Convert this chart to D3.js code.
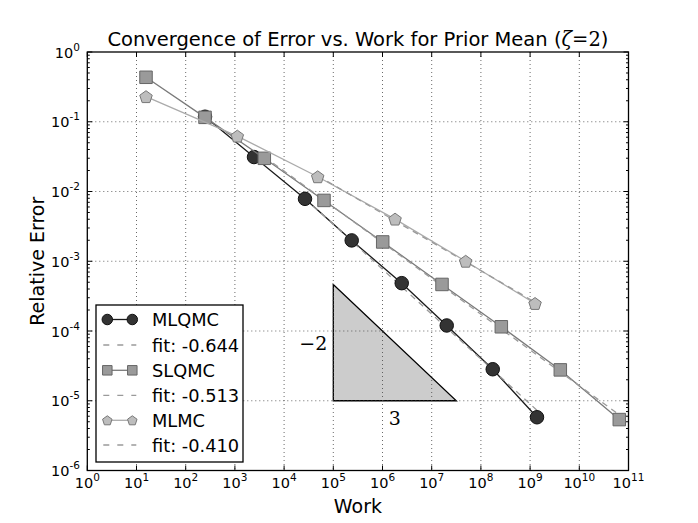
<!DOCTYPE html>
<html>
<head>
<meta charset="utf-8">
<script src="https://cdn.jsdelivr.net/npm/d3@7"></script>
<style>
  body { margin: 0; background: #fff; }
  svg { display: block; font-family: "DejaVu Sans", sans-serif; }
</style>
</head>
<body>
<svg id="chart" width="698" height="523"></svg>
<script>
// values
const seriesNames = ["MLQMC", "SLQMC", "MLMC"];
const fitLabels = ["fit: -0.644", "fit: -0.513", "fit: -0.410"];
const fitSlopes = [-0.644, -0.513, -0.410];

const workMLQMC = [247, 2445, 26600, 236600, 2.46e6, 2.02e7, 1.74e8, 1.38e9];
const errMLQMC = [0.118, 0.0312, 0.00785, 0.00199, 4.85e-4, 1.2e-4, 2.83e-5, 5.8e-6];

const workSLQMC = [15.6, 247, 3960, 64700, 1.01e6, 1.62e7, 2.6e8, 4.11e9, 6.5e10];
const errSLQMC = [0.434, 0.1156, 0.0299, 0.00745, 0.00189, 4.65e-4, 1.15e-4, 2.77e-5, 5.37e-6];

const workMLMC = [15.6, 1120, 48200, 1.8e6, 4.9e7, 1.26e9];
const errMLMC = [0.229, 0.0623, 0.01626, 0.00402, 1.0e-3, 2.48e-4];

const xTickExps = [0, 1, 2, 3, 4, 5, 6, 7, 8, 9, 10, 11];
const yTickExps = [0, -1, -2, -3, -4, -5, -6];

// slope triangle: x from 1e5 to 10^7.5, rise 2 over run 3
const triWork = [1e5, Math.pow(10, 7.5)];
const triErr = 1e-5;
const triRise = -2, triRun = 3;

(function () {
  const svg = d3.select("#chart");
  const W = 698, H = 523;
  const m = { left: 87.3, right: 69.5, top: 52, bottom: 52.5 };
  const x = d3.scaleLog().domain([1, 1e11]).range([m.left, W - m.right]);
  const y = d3.scaleLog().domain([1e-6, 1]).range([H - m.bottom, m.top]);

  const styles = [
    { line: "#1a1a1a", fill: "#333333", stroke: "#111111", shape: "circle" },
    { line: "#7a7a7a", fill: "#9a9a9a", stroke: "#666666", shape: "square" },
    { line: "#ababab", fill: "#bdbdbd", stroke: "#777777", shape: "pentagon" }
  ];
  const fitColor = "#9a9a9a";

  const data = [
    workMLQMC.map((w, i) => [w, errMLQMC[i]]),
    workSLQMC.map((w, i) => [w, errSLQMC[i]]),
    workMLMC.map((w, i) => [w, errMLMC[i]])
  ];

  function markerPath(shape, size) {
    const r = size / 2;
    if (shape === "circle") return d3.symbol(d3.symbolCircle, Math.PI * r * r)();
    if (shape === "square") return `M${-r},${-r}H${r}V${r}H${-r}Z`;
    const pts = d3.range(5).map((k) => {
      const a = -Math.PI / 2 + (k * 2 * Math.PI) / 5;
      return [r * 1.05 * Math.cos(a), r * 1.05 * Math.sin(a) + r * 0.1];
    });
    return "M" + pts.map((p) => p.join(",")).join("L") + "Z";
  }

  // slope triangle
  const triTop = triErr * Math.pow(10, (-triRise / triRun) * Math.log10(triWork[1] / triWork[0]));
  svg.append("path")
    .attr("d", `M${x(triWork[0])},${y(triTop)}L${x(triWork[0])},${y(triErr)}L${x(triWork[1])},${y(triErr)}Z`)
    .attr("fill", "#cccccc")
    .attr("stroke", "#000")
    .attr("stroke-width", 1.3);

  // grid
  const grid = svg.append("g").attr("stroke", "#444").attr("stroke-width", 0.8)
    .attr("stroke-dasharray", "1,3");
  xTickExps.slice(1, -1).forEach((e) => {
    grid.append("line").attr("x1", x(10 ** e)).attr("x2", x(10 ** e))
      .attr("y1", m.top).attr("y2", H - m.bottom);
  });
  yTickExps.slice(1, -1).forEach((e) => {
    grid.append("line").attr("y1", y(10 ** e)).attr("y2", y(10 ** e))
      .attr("x1", m.left).attr("x2", W - m.right);
  });

  // triangle labels
  svg.append("text")
    .attr("x", x(triWork[0]) - 20).attr("y", (y(triTop) + y(triErr)) / 2 + 7)
    .attr("text-anchor", "middle")
    .style("font-family", "'DejaVu Serif', serif").style("font-size", "19px")
    .text("\u2212" + Math.abs(triRise));
  svg.append("text")
    .attr("x", x(Math.sqrt(triWork[0] * triWork[1]))).attr("y", y(triErr) + 24)
    .attr("text-anchor", "middle")
    .style("font-family", "'DejaVu Serif', serif").style("font-size", "19px")
    .text(triRun);

  const line = d3.line().x((d) => x(d[0])).y((d) => y(d[1]));

  // data lines + fits + markers
  data.forEach((pts, s) => {
    const st = styles[s];
    svg.append("path").attr("d", line(pts)).attr("fill", "none")
      .attr("stroke", st.line).attr("stroke-width", 1.3);

    const fitPts = pts.slice(2);
    const slope = fitSlopes[s];
    const logC = d3.mean(fitPts, (d) => Math.log10(d[1]) - slope * Math.log10(d[0]));
    const x0 = fitPts[0][0], x1 = fitPts[fitPts.length - 1][0];
    const fitLine = [x0, x1].map((w) => [w, Math.pow(10, logC + slope * Math.log10(w))]);
    svg.append("path").attr("d", line(fitLine)).attr("fill", "none")
      .attr("stroke", fitColor).attr("stroke-width", 1.3).attr("stroke-dasharray", "6,5");

    svg.append("g").selectAll("path").data(pts).join("path")
      .attr("d", markerPath(st.shape, st.shape === "circle" ? 13.5 : 12.5))
      .attr("transform", (d) => `translate(${x(d[0])},${y(d[1])})`)
      .attr("fill", st.fill).attr("stroke", st.stroke).attr("stroke-width", 1);
  });

  // frame
  svg.append("rect").attr("x", m.left).attr("y", m.top)
    .attr("width", W - m.left - m.right).attr("height", H - m.top - m.bottom)
    .attr("fill", "none").attr("stroke", "#000").attr("stroke-width", 1.3);

  // ticks (inside, all sides)
  const ticks = svg.append("g").attr("stroke", "#000").attr("stroke-width", 1);
  xTickExps.forEach((e) => {
    const px = x(10 ** e);
    ticks.append("line").attr("x1", px).attr("x2", px).attr("y1", H - m.bottom).attr("y2", H - m.bottom - 5);
    ticks.append("line").attr("x1", px).attr("x2", px).attr("y1", m.top).attr("y2", m.top + 5);
  });
  yTickExps.forEach((e) => {
    const py = y(10 ** e);
    ticks.append("line").attr("y1", py).attr("y2", py).attr("x1", m.left).attr("x2", m.left + 5);
    ticks.append("line").attr("y1", py).attr("y2", py).attr("x1", W - m.right).attr("x2", W - m.right - 5);
    if (e > -6) {
      d3.range(2, 10).forEach((k) => {
        const pm = y(k * 10 ** (e - 1));
        ticks.append("line").attr("y1", pm).attr("y2", pm).attr("x1", m.left).attr("x2", m.left + 2.5);
        ticks.append("line").attr("y1", pm).attr("y2", pm).attr("x1", W - m.right).attr("x2", W - m.right - 2.5);
      });
    }
  });

  function powLabel(sel, e) {
    sel.append("tspan").text("10");
    sel.append("tspan").attr("dy", -7).style("font-size", "10.5px").text(String(e));
  }

  xTickExps.forEach((e) => {
    const t = svg.append("text").attr("x", x(10 ** e)).attr("y", 488)
      .attr("text-anchor", "middle").style("font-size", "14.5px");
    powLabel(t, e);
  });
  yTickExps.forEach((e) => {
    const t = svg.append("text").attr("x", 80).attr("y", y(10 ** e) + 5.5)
      .attr("text-anchor", "end").style("font-size", "14.5px");
    powLabel(t, e);
  });

  // axis labels
  svg.append("text").attr("x", (m.left + W - m.right) / 2).attr("y", 513)
    .attr("text-anchor", "middle").style("font-size", "19px").text("Work");
  svg.append("text").attr("transform", `translate(44,${(m.top + H - m.bottom) / 2}) rotate(-90)`)
    .attr("text-anchor", "middle").style("font-size", "19px").text("Relative Error");

  // title
  const title = svg.append("text").attr("x", (m.left + W - m.right) / 2).attr("y", 46)
    .attr("text-anchor", "middle").style("font-size", "19.5px");
  title.append("tspan").text("Convergence of Error vs. Work for Prior Mean (");
  title.append("tspan").style("font-family", "'DejaVu Serif', serif").style("font-style", "italic").text("\u03b6");
  title.append("tspan").style("font-family", "'DejaVu Serif', serif").text("=2");
  title.append("tspan").text(")");

  // legend
  const lg = svg.append("g");
  lg.append("rect").attr("x", 96).attr("y", 305).attr("width", 147).attr("height", 157)
    .attr("fill", "#fff").attr("stroke", "#000").attr("stroke-width", 1.3);
  const rowY = [319.5, 345, 370.3, 395.3, 420.3, 445];
  const mx0 = 107.3, mx1 = 132.3;
  seriesNames.forEach((name, s) => {
    const st = styles[s];
    const yy = rowY[s * 2];
    lg.append("line").attr("x1", mx0).attr("x2", mx1).attr("y1", yy).attr("y2", yy)
      .attr("stroke", st.line).attr("stroke-width", 1.3);
    [mx0, mx1].forEach((mx) => {
      lg.append("path").attr("d", markerPath(st.shape, st.shape === "circle" ? 10.5 : 9.5))
        .attr("transform", `translate(${mx},${yy})`)
        .attr("fill", st.fill).attr("stroke", st.stroke).attr("stroke-width", 1);
    });
    lg.append("text").attr("x", 152).attr("y", yy + 6.5).style("font-size", "17.8px").text(name);

    const fy = rowY[s * 2 + 1];
    lg.append("line").attr("x1", mx0 - 4).attr("x2", mx1 + 4).attr("y1", fy).attr("y2", fy)
      .attr("stroke", fitColor).attr("stroke-width", 1.3).attr("stroke-dasharray", "6,8");
    lg.append("text").attr("x", 152).attr("y", fy + 6.5).style("font-size", "17.8px").text(fitLabels[s]);
  });
})();
</script>
</body>
</html>
